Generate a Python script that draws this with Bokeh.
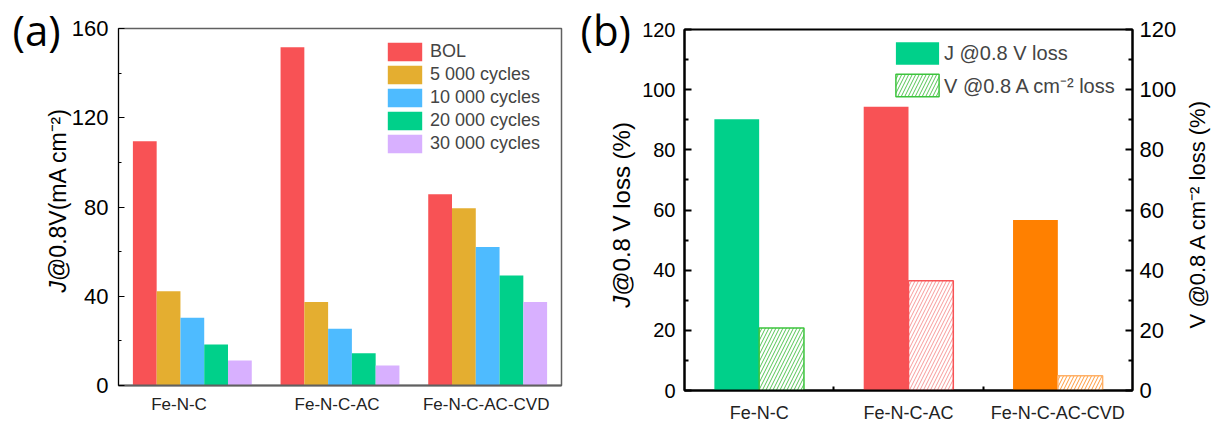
import math
from bokeh.plotting import figure
from bokeh.models import (ColumnDataSource, FixedTicker, LinearAxis, Legend,
                          LegendItem, Label, Range1d)
from bokeh.layouts import row
from bokeh.embed import file_html
from bokeh.resources import INLINE

# ---------------- data ----------------
categories = ["Fe-N-C", "Fe-N-C-AC", "Fe-N-C-AC-CVD"]

series_a = ["BOL", "5 000 cycles", "10 000 cycles", "20 000 cycles", "30 000 cycles"]
bol = [109.5, 151.6, 85.7]
cyc_5000 = [42.2, 37.4, 79.4]
cyc_10000 = [30.4, 25.4, 62.1]
cyc_20000 = [18.4, 14.4, 49.3]
cyc_30000 = [11.2, 9.0, 37.4]

yticks_a = [0, 40, 80, 120, 160]
yticks_b = [0, 20, 40, 60, 80, 100, 120]

j_loss = [90.2, 94.3, 56.7]
v_loss = [20.8, 36.5, 4.9]
series_b = ["J @0.8 V loss", "V @0.8 A cm\u207b\u00b2 loss"]

# ---------------- styles ----------------
FONT = "Liberation Sans"
colors_a = ["#F85255", "#E4AE30", "#4EBBFF", "#00D08A", "#D8B0FF"]
j_colors = ["#00D08A", "#F85255", "#FF8000"]
v_line = ["#3CC43C", "#F85255", "#FFB066"]
v_hatch = ["#55C455", "#F79A9A", "#FF9A3A"]


def panel_tag(p, text, offset, standoff):
    t = p.title
    t.text = text
    t.align = "left"
    t.vertical_align = "bottom"
    t.offset = offset
    t.standoff = standoff
    t.text_font = "Open Sans"
    t.text_font_size = "42px"
    t.text_font_style = "normal"
    t.text_color = "black"


def no_frame_align(p):
    if "frame_align" in p.properties():
        p.frame_align = False


def side_title(p, side, x, y, text, size, italic=False):
    p.add_layout(Label(x=x, y=y, x_units="screen", y_units="screen", text=text,
                       angle=math.pi / 2, text_font=FONT, text_font_size=size,
                       text_font_style="italic" if italic else "normal",
                       text_color="black", text_align="left",
                       text_baseline="middle"), side)


# ---------------- panel (a) ----------------
pa = figure(width=580, height=425, x_range=Range1d(0.5, 3.5), y_range=Range1d(0, 160),
            output_backend="svg", toolbar_location=None,
            min_border_left=118, min_border_right=19, min_border_top=28, min_border_bottom=40)
no_frame_align(pa)
pa.grid.visible = False
pa.outline_line_color = "#606060"
pa.outline_line_width = 1.5
panel_tag(pa, "(a)", -106, -58)

bw = 0.161
items_a = []
all_series = [bol, cyc_5000, cyc_10000, cyc_20000, cyc_30000]
for k, (name, vals, col) in enumerate(zip(series_a, all_series, colors_a)):
    xs = [i + 1 + (k - 2) * bw for i in range(len(categories))]
    src = ColumnDataSource(dict(x=xs, top=vals))
    r = pa.vbar(x="x", top="top", bottom=0, width=bw, source=src,
                fill_color=col, line_color=None)
    # legend swatch (full-size block, as in the reference legend)
    sw = pa.line(x=[], y=[], line_color=col, line_width=22, line_cap="butt")
    items_a.append(LegendItem(label=name, renderers=[sw, r]))

ya = pa.yaxis[0]
ya.ticker = FixedTicker(ticks=yticks_a, minor_ticks=[20, 60, 100, 140])
ya.major_tick_in = 6
ya.major_tick_out = 0
ya.minor_tick_in = 3
ya.minor_tick_out = 0
ya.axis_line_color = "black"
ya.major_tick_line_color = "black"
ya.minor_tick_line_color = "black"
ya.major_label_text_font = FONT
ya.major_label_text_font_size = "22px"
ya.major_label_text_color = "black"
ya.major_label_standoff = 10

# y title of (a): italic J followed by the rest
side_title(pa, "left", 15.5, 93, "J", "23px", italic=True)
side_title(pa, "left", 41.2, 104.5, "@0.8V(mA cm\u207b\u00b2)", "23px")

label_pos_a = [0.91, 1.98, 2.99]
xa = pa.xaxis[0]
xa.ticker = FixedTicker(ticks=label_pos_a)
xa.major_label_overrides = {p: c for p, c in zip(label_pos_a, categories)}
xa.major_tick_in = 0
xa.major_tick_out = 0
xa.minor_tick_in = 0
xa.minor_tick_out = 0
xa.axis_line_color = "#606060"
xa.axis_line_width = 2
xa.major_label_text_font = FONT
xa.major_label_text_font_size = "17px"
xa.major_label_text_color = "#222222"
xa.major_label_standoff = 9

leg_a = Legend(items=items_a, location=(265, 230), glyph_width=43, glyph_height=23,
               spacing=0, label_standoff=4, padding=0, margin=0,
               border_line_alpha=0, background_fill_alpha=0,
               label_text_font=FONT, label_text_font_size="18px", label_height=20)
pa.add_layout(leg_a)

# ---------------- panel (b) ----------------
pb = figure(width=631, height=425, x_range=Range1d(0.5, 3.5), y_range=Range1d(0, 120),
            output_backend="svg", toolbar_location=None,
            min_border_left=104, min_border_right=79, min_border_top=29, min_border_bottom=34)
no_frame_align(pb)
pb.grid.visible = False
pb.outline_line_color = "black"
pb.outline_line_width = 2
panel_tag(pb, "(b)", -104, -56)

bw_b = 0.3
src_j = ColumnDataSource(dict(x=[i + 1 - bw_b / 2 for i in range(len(categories))],
                              top=j_loss, color=j_colors))
src_v = ColumnDataSource(dict(x=[i + 1 + bw_b / 2 for i in range(len(categories))],
                              top=v_loss, lc=v_line, hc=v_hatch))
rj = pb.vbar(x="x", top="top", bottom=0, width=bw_b, source=src_j,
             fill_color="color", line_color=None)
rv = pb.vbar(x="x", top="top", bottom=0, width=bw_b, source=src_v,
             fill_color="white", line_color="lc", line_width=1.5,
             hatch_pattern="/", hatch_color="hc", hatch_scale=7, hatch_weight=1)


def style_y(ax, size, standoff):
    ax.major_tick_in = 7
    ax.major_tick_out = 0
    ax.minor_tick_in = 4
    ax.minor_tick_out = 0
    ax.axis_line_width = 2
    ax.major_tick_line_width = 2
    ax.minor_tick_line_width = 2
    ax.axis_line_color = "black"
    ax.major_label_text_font = FONT
    ax.major_label_text_font_size = size
    ax.major_label_text_color = "black"
    ax.major_label_standoff = standoff


yb = pb.yaxis[0]
yb.ticker = FixedTicker(ticks=yticks_b, minor_ticks=[10, 30, 50, 70, 90, 110])
style_y(yb, "20px", 9)
side_title(pb, "left", 8.8, 82.7, "J", "24px", italic=True)
side_title(pb, "left", 35.6, 94.7, "@0.8 V loss (%)", "24px")

yr = LinearAxis(ticker=FixedTicker(ticks=yticks_b, minor_ticks=[10, 30, 50, 70, 90, 110]))
style_y(yr, "22px", 7)
pb.add_layout(yr, "right")

# right-hand axis title, reading bottom-to-top as in the reference
pb.add_layout(Label(x=18, y=177, x_units="screen", y_units="screen",
                    text="V @0.8 A cm\u207b\u00b2 loss (%)", angle=math.pi / 2,
                    text_font=FONT, text_font_size="22px", text_color="black",
                    text_align="center", text_baseline="middle"), "right")

label_pos_b = [1, 2, 3]
xb = pb.xaxis[0]
xb.ticker = FixedTicker(ticks=label_pos_b, minor_ticks=[1.5, 2.5])
xb.major_label_overrides = {p: c for p, c in zip(label_pos_b, categories)}
xb.major_tick_in = 0
xb.major_tick_out = 0
xb.minor_tick_in = 4
xb.minor_tick_out = 0
xb.minor_tick_line_width = 2
xb.axis_line_width = 2
xb.axis_line_color = "black"
xb.major_label_text_font = FONT
xb.major_label_text_font_size = "18px"
xb.major_label_text_color = "#222222"
xb.major_label_standoff = 12

leg_b = Legend(items=[LegendItem(label=series_b[0], renderers=[rj], index=0),
                      LegendItem(label=series_b[1], renderers=[rv], index=0)],
               location=(206, 291), glyph_width=54, glyph_height=28,
               spacing=4, label_standoff=0, padding=0, margin=0,
               border_line_alpha=0, background_fill_alpha=0,
               label_text_font=FONT, label_text_font_size="20px", label_height=20)
pb.add_layout(leg_b)

layout = row(pa, pb)
open("out.html", "w").write(file_html(layout, INLINE))
